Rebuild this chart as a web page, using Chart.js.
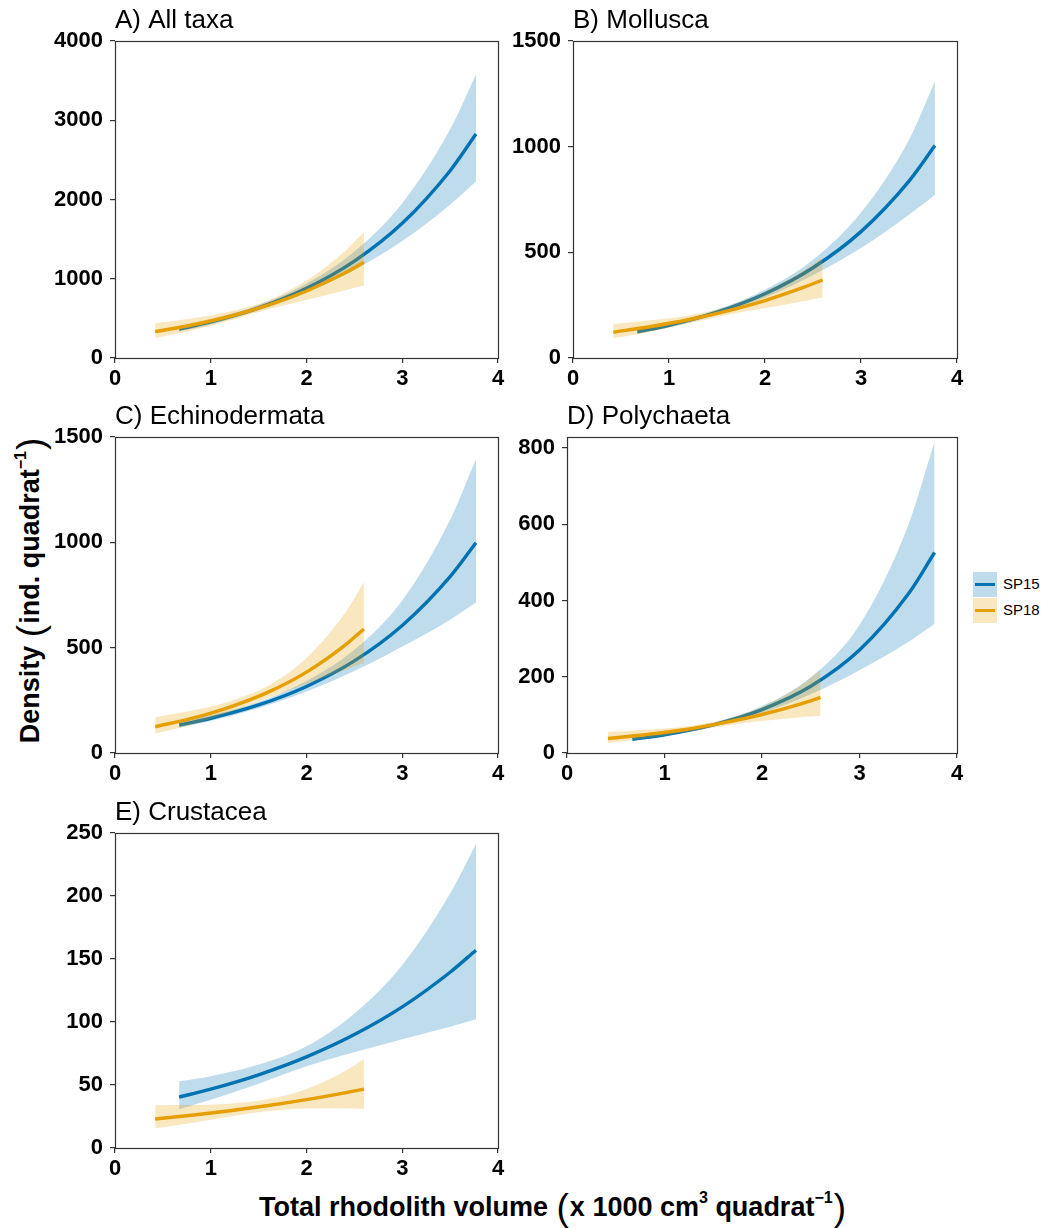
<!DOCTYPE html>
<html>
<head>
<meta charset="utf-8">
<script src="https://cdn.jsdelivr.net/npm/chart.js@4.4.1/dist/chart.umd.min.js"></script>
<style>
  html, body { margin: 0; padding: 0; background: #fff; }
  body { width: 1053px; height: 1228px; position: relative; overflow: hidden;
         font-family: "Liberation Sans", Arial, sans-serif; }
  .panel { position: absolute; }
  .ytitle { position: absolute; left: 31px; top: 590px; transform: translate(-50%, -50%) rotate(-90deg);
            white-space: nowrap; font-weight: bold; font-size: 27px; color: #000; }
  .xtitle { position: absolute; left: 553px; top: 1208px; transform: translate(-50%, -50%);
            white-space: nowrap; font-weight: bold; font-size: 27px; color: #000; }
  .paren { font-weight: normal; font-size: 37px; vertical-align: -4px; margin: 0 1px; }
  sup { font-size: 16px; vertical-align: 13px; line-height: 0; }
  .legend { position: absolute; left: 973px; top: 572px; font-size: 15px; color: #000; }
  .lg-row { position: relative; height: 26px; }
  .lg-key { position: absolute; left: 0; top: 0; width: 24px; height: 25px; }
  .lg-key i { position: absolute; left: 2px; right: 2px; top: 11px; height: 3px; }
  .lg-text { position: absolute; left: 30px; top: 3px; }
</style>
</head>
<body>

<div class="ytitle">Density <span class="paren">(</span>ind. quadrat<sup>−1</sup><span class="paren">)</span></div>
<div class="xtitle">Total rhodolith volume <span class="paren">(</span>x 1000 cm<sup>3</sup> quadrat<sup>−1</sup><span class="paren">)</span></div>

<div class="legend">
  <div class="lg-row"><div class="lg-key" style="background:rgba(0,114,178,0.25)"><i style="background:#0072B2"></i></div><span class="lg-text">SP15</span></div>
  <div class="lg-row"><div class="lg-key" style="background:rgba(230,159,0,0.25)"><i style="background:#E69F00"></i></div><span class="lg-text">SP18</span></div>
</div>

<script>
// Rhodolith volume (x 1000 cm3 per quadrat) where each site's fitted curve is evaluated
const volumeSP15 = [0.67, 1.0, 1.5, 2.0, 2.5, 3.0, 3.5, 3.77];
const volumeSP18 = [0.42, 0.8, 1.2, 1.6, 2.0, 2.4, 2.6];

// A) All taxa: fitted density and 95% confidence limits
const allTaxaSP15   = [366, 455, 632, 879, 1222, 1699, 2363, 2826];
const allTaxaSP15Lo = [335, 424, 598, 824, 1111, 1477, 1935, 2231];
const allTaxaSP15Hi = [400, 488, 668, 938, 1344, 1954, 2886, 3582];
const allTaxaSP18   = [332, 416, 527, 668, 846, 1072, 1207];
const allTaxaSP18Lo = [252, 346, 474, 615, 732, 853, 917];
const allTaxaSP18Hi = [437, 500, 587, 726, 977, 1348, 1589];

// B) Mollusca
const molluscaSP15   = [124, 155, 217, 304, 427, 598, 837, 1005];
const molluscaSP15Lo = [113, 145, 205, 286, 392, 520, 678, 771];
const molluscaSP15Hi = [136, 166, 229, 323, 465, 688, 1033, 1310];
const molluscaSP18   = [122, 148, 181, 222, 272, 334, 369];
const molluscaSP18Lo = [93, 123, 163, 204, 237, 269, 286];
const molluscaSP18Hi = [161, 178, 201, 241, 313, 414, 476];

// C) Echinodermata
const echinoSP15   = [133, 165, 228, 316, 437, 605, 837, 998];
const echinoSP15Lo = [120, 152, 214, 292, 389, 505, 633, 714];
const echinoSP15Hi = [147, 179, 243, 342, 490, 724, 1107, 1395];
const echinoSP18   = [125, 164, 218, 289, 384, 511, 589];
const echinoSP18Lo = [92, 134, 193, 262, 327, 394, 428];
const echinoSP18Hi = [170, 200, 246, 319, 451, 663, 811];

// D) Polychaeta
const polySP15   = [36, 48, 74, 114, 175, 270, 417, 526];
const polySP15Lo = [32, 44, 69, 105, 154, 217, 291, 339];
const polySP15Hi = [41, 53, 79, 123, 199, 336, 598, 817];
const polySP18   = [38, 48, 61, 79, 101, 129, 146];
const polySP18Lo = [26, 38, 54, 71, 84, 94, 98];
const polySP18Hi = [55, 61, 69, 87, 121, 178, 218];

// E) Crustacea
const crustSP15   = [40.4, 46.7, 58.1, 72.3, 90.0, 112, 139.5, 157];
const crustSP15Lo = [30.8, 38.2, 51.0, 64.8, 75.9, 86.4, 96.3, 102.1];
const crustSP15Hi = [52.9, 57.0, 66.2, 80.7, 106.7, 145.3, 202.0, 241.3];
const crustSP18   = [23, 26, 29.6, 33.7, 38.4, 43.8, 46.7];
const crustSP18Lo = [15.6, 19.8, 25.0, 29.3, 31.4, 31.5, 31.0];
const crustSP18Hi = [34.0, 34.1, 35.1, 38.8, 46.9, 60.9, 70.4];

// Panel titles and y-axis ranges / tick steps
const panelTitles = ["A) All taxa", "B) Mollusca", "C) Echinodermata", "D) Polychaeta", "E) Crustacea"];
const panelYMax   = [4000, 1500, 1500, 829, 250];
const panelYStep  = [1000, 500, 500, 200, 50];
const xTickValues = [0, 1, 2, 3, 4];

// Plot-area boxes on the page: [left, top, right, bottom]
const panelBoxes = [
  [115, 41, 498, 358],
  [573, 41, 957, 358],
  [115, 437, 498, 753],
  [567, 437, 957, 753],
  [115, 833, 498, 1148]
];

const FONT = "'Liberation Sans', Arial, sans-serif";
const BLUE = "#0072B2", ORANGE = "#E69F00";
const BLUE_BAND = "rgba(0,114,178,0.25)", ORANGE_BAND = "rgba(230,159,0,0.25)";
const Y_W = 70, TOP_PAD = 41, RIGHT_PAD = 14, X_H = 40;

function pts(xs, ys) { return xs.map((x, i) => ({ x: x, y: ys[i] })); }

// frame around plot area + panel title at its top-left corner
const panelDecor = {
  id: 'panelDecor',
  afterDraw(chart, args, opts) {
    const a = chart.chartArea, ctx = chart.ctx;
    ctx.save();
    ctx.strokeStyle = '#333';
    ctx.lineWidth = 1.2;
    ctx.strokeRect(Math.round(a.left) + 0.5, Math.round(a.top) + 0.5,
                   Math.round(a.right - a.left), Math.round(a.bottom - a.top));
    ctx.fillStyle = '#000';
    ctx.font = "26px " + FONT;
    ctx.textBaseline = 'alphabetic';
    ctx.textAlign = 'left';
    ctx.fillText(opts.text, a.left, a.top - 13);
    ctx.restore();
  }
};

function makePanel(idx, s15, s15Lo, s15Hi, s18, s18Lo, s18Hi) {
  const [l, t, r, b] = panelBoxes[idx];
  const w = Y_W + (r - l) + RIGHT_PAD;
  const h = TOP_PAD + (b - t) + X_H;
  const div = document.createElement('div');
  div.className = 'panel';
  div.style.left = (l - Y_W) + 'px';
  div.style.top = (t - TOP_PAD) + 'px';
  div.style.width = w + 'px';
  div.style.height = h + 'px';
  const cv = document.createElement('canvas');
  cv.width = w; cv.height = h;
  cv.style.width = w + 'px'; cv.style.height = h + 'px';
  div.appendChild(cv);
  document.body.appendChild(div);

  const band = (data, color, order, fill) => ({
    data: data, borderWidth: 0, pointRadius: 0, backgroundColor: color,
    fill: fill, order: order, cubicInterpolationMode: 'monotone'
  });
  const line = (data, color, order) => ({
    data: data, borderColor: color, borderWidth: 3.4, pointRadius: 0,
    fill: false, order: order, cubicInterpolationMode: 'monotone', borderCapStyle: 'butt'
  });

  const yMax = panelYMax[idx], yStep = panelYStep[idx];
  const yTicks = [];
  for (let v = 0; v <= yMax + 1e-9; v += yStep) yTicks.push(v);

  new Chart(cv, {
    type: 'line',
    data: {
      datasets: [
        band(pts(volumeSP15, s15Lo), BLUE_BAND, 6, false),
        band(pts(volumeSP15, s15Hi), BLUE_BAND, 5, '-1'),
        line(pts(volumeSP15, s15), BLUE, 4),
        band(pts(volumeSP18, s18Lo), ORANGE_BAND, 3, false),
        band(pts(volumeSP18, s18Hi), ORANGE_BAND, 2, '-1'),
        line(pts(volumeSP18, s18), ORANGE, 1)
      ]
    },
    options: {
      responsive: false,
      animation: false,
      devicePixelRatio: 1,
      layout: { padding: { top: TOP_PAD, right: RIGHT_PAD, left: 0, bottom: 0 } },
      plugins: {
        legend: { display: false },
        tooltip: { enabled: false },
        panelDecor: { text: panelTitles[idx] }
      },
      scales: {
        x: {
          type: 'linear', min: 0, max: 4,
          afterFit(s) { s.height = X_H; },
          afterBuildTicks(s) { s.ticks = xTickValues.map(v => ({ value: v })); },
          border: { display: false },
          grid: { display: true, drawOnChartArea: false, drawTicks: true, tickLength: 5, color: '#333', lineWidth: 1.2 },
          ticks: { color: '#000', padding: 3, callback: v => String(v),
                   font: { family: FONT, size: 22, weight: 'bold' } }
        },
        y: {
          type: 'linear', min: 0, max: yMax,
          afterFit(s) { s.width = Y_W; },
          afterBuildTicks(s) { s.ticks = yTicks.map(v => ({ value: v })); },
          ticks: { color: '#000', padding: 7, callback: v => String(v),
                   font: { family: FONT, size: 22, weight: 'bold' } },
          border: { display: false },
          grid: { display: true, drawOnChartArea: false, drawTicks: true, tickLength: 5, color: '#333', lineWidth: 1.2 }
        }
      }
    },
    plugins: [panelDecor]
  });
}

makePanel(0, allTaxaSP15, allTaxaSP15Lo, allTaxaSP15Hi, allTaxaSP18, allTaxaSP18Lo, allTaxaSP18Hi);
makePanel(1, molluscaSP15, molluscaSP15Lo, molluscaSP15Hi, molluscaSP18, molluscaSP18Lo, molluscaSP18Hi);
makePanel(2, echinoSP15, echinoSP15Lo, echinoSP15Hi, echinoSP18, echinoSP18Lo, echinoSP18Hi);
makePanel(3, polySP15, polySP15Lo, polySP15Hi, polySP18, polySP18Lo, polySP18Hi);
makePanel(4, crustSP15, crustSP15Lo, crustSP15Hi, crustSP18, crustSP18Lo, crustSP18Hi);
</script>
</body>
</html>
